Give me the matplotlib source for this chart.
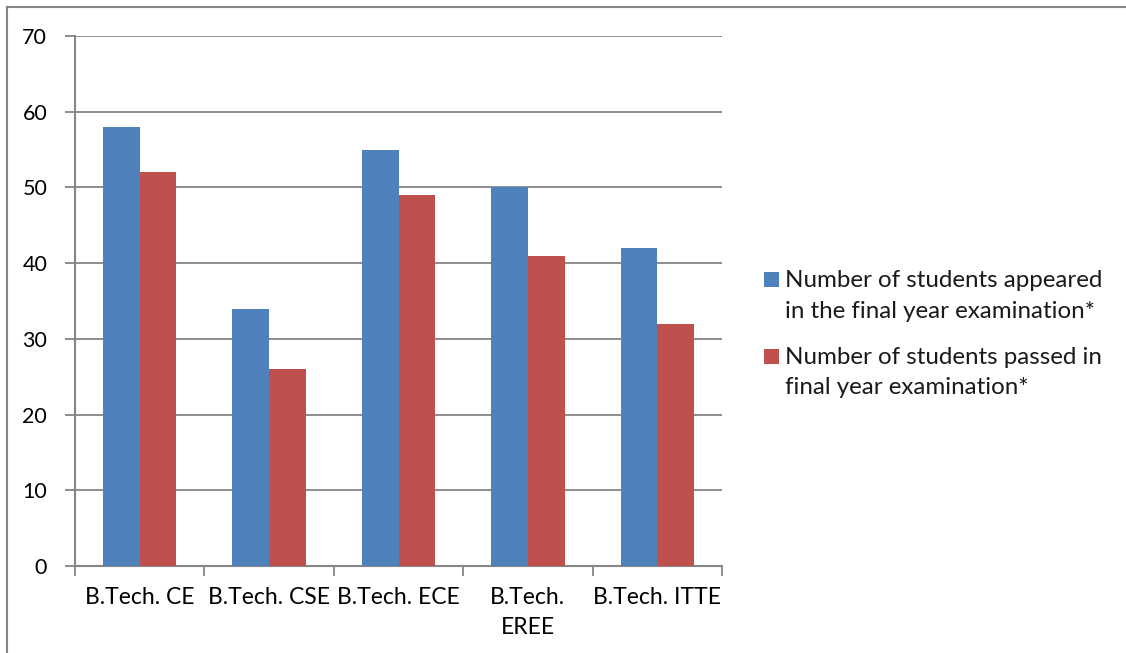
import matplotlib
matplotlib.use("Agg")
import matplotlib.pyplot as plt
import numpy as np
from matplotlib.lines import Line2D
from matplotlib.patches import Rectangle

courses = ["B.Tech. CE", "B.Tech. CSE", "B.Tech. ECE", "B.Tech.\nEREE", "B.Tech. ITTE"]
appeared = [58, 34, 55, 50, 42]
passed = [52, 26, 49, 41, 32]
series_labels = ["Number of students appeared\nin the final year examination*",
                 "Number of students passed in\nfinal year examination*"]

BLUE, RED, GREY = "#4F81BD", "#C0504D", "#868686"
W, H = 1126, 653

plt.rcParams["font.family"] = ["Lato", "DejaVu Sans"]

fig = plt.figure(figsize=(W / 100, H / 100), dpi=100)
ax = fig.add_axes([75 / W, 87 / H, 647 / W, 530 / H])

x = np.arange(len(courses))
w = 0.283
ax.bar(x - w / 2, appeared, w, color=BLUE, zorder=3)
ax.bar(x + w / 2, passed, w, color=RED, zorder=3)

ax.set_xlim(-0.5, len(courses) - 0.5)
ax.set_ylim(0, 70)
ax.set_yticks(range(0, 71, 10))
ax.yaxis.grid(True, color=GREY, linewidth=1.3, zorder=0)
ax.set_xticks(x)
ax.set_xticklabels(courses, fontsize=16.5, linespacing=1.55)
ax.set_xticks(np.arange(-0.5, len(courses)), minor=True)
ax.tick_params(axis="x", which="major", length=0, pad=15)
ax.tick_params(axis="x", which="minor", length=7, width=1.3, color=GREY, direction="out")
ax.tick_params(axis="y", length=7, width=1.3, color=GREY, direction="out", labelsize=15.5, pad=13)

for s in ["top", "right"]:
    ax.spines[s].set_visible(False)
for s in ["left", "bottom"]:
    ax.spines[s].set_color(GREY)
    ax.spines[s].set_linewidth(1.5)

# legend drawn by hand: square aligned with first text line (Excel style)
first_baselines = [287, 364]
pitch = 30.5
for label, color, b in zip(series_labels, [BLUE, RED], first_baselines):
    fig.add_artist(Rectangle((764 / W, 1 - b / H), 15 / W, 15 / H,
                             facecolor=color, edgecolor="none"))
    for k, line in enumerate(label.split("\n")):
        fig.text(785 / W, 1 - (b + k * pitch) / H, line, fontsize=17.4,
                 ha="left", va="baseline", color="#1a1a1a")

# outer chart frame (clipped on right and bottom)
fig.add_artist(Line2D([7 / W, 7 / W], [0, 1 - 7 / H], color=GREY, lw=1.5))
fig.add_artist(Line2D([7 / W, 1], [1 - 7 / H, 1 - 7 / H], color=GREY, lw=1.5))

fig.savefig("out.png", dpi=100)
